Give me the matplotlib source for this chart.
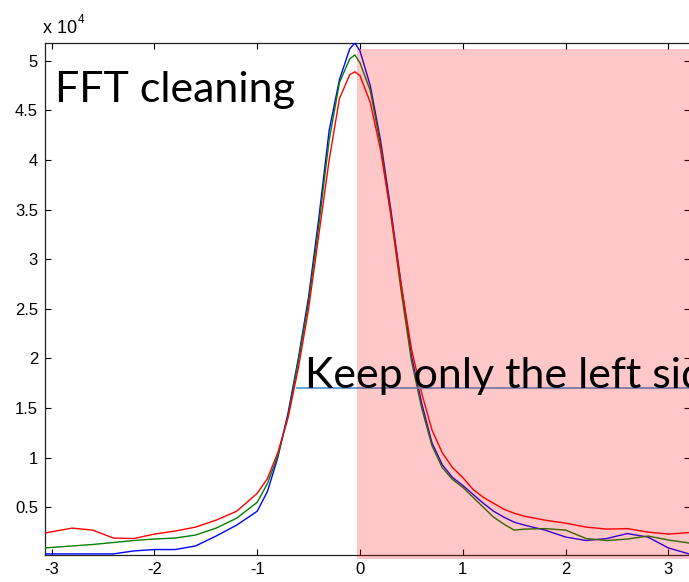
import matplotlib
matplotlib.use("Agg")
import matplotlib.pyplot as plt
from matplotlib.patches import Rectangle
import numpy as np

# Signal amplitude vs. frequency (three processing variants)
x = [-3.07, -2.8, -2.6, -2.4, -2.2, -2.0, -1.8, -1.6, -1.4, -1.2, -1.0, -0.9,
     -0.8, -0.7, -0.6, -0.5, -0.4, -0.3, -0.2, -0.1, -0.05, 0.0, 0.1, 0.2,
     0.3, 0.4, 0.5, 0.6, 0.7, 0.8, 0.9, 1.0, 1.1, 1.2, 1.3, 1.4, 1.5, 1.6,
     1.8, 2.0, 2.2, 2.4, 2.6, 2.8, 3.0, 3.2]

red = [2400, 2900, 2700, 1900, 1850, 2300, 2600, 3000, 3700, 4600, 6400, 7900,
       10500, 14000, 19000, 25000, 32500, 40000, 46200, 48600, 48900, 48500,
       45800, 41000, 34500, 27500, 21000, 16500, 12800, 10500, 9000, 8000,
       6800, 6000, 5400, 4800, 4400, 4100, 3700, 3400, 3000, 2800, 2850,
       2500, 2300, 2450]

green = [900, 1100, 1250, 1450, 1650, 1800, 1900, 2200, 2900, 3900, 5500, 7400,
         10200, 14200, 19700, 25700, 33500, 42000, 47800, 50200, 50600, 49800,
         47000, 41500, 34500, 26800, 19800, 15000, 11200, 9000, 7800, 7000,
         6000, 5000, 4000, 3300, 2700, 2800, 2850, 2700, 1850, 1650, 1800,
         2100, 1700, 1400]

blue = [300, 300, 300, 300, 600, 740, 740, 1100, 2100, 3200, 4600, 6600,
        10000, 14500, 20000, 26200, 34200, 43000, 48100, 51200, 51800, 51000,
        47500, 42000, 35000, 27500, 20300, 15500, 11500, 9300, 8000, 7200,
        6300, 5400, 4600, 4000, 3500, 3200, 2700, 2000, 1650, 1850, 2350,
        2000, 900, 300]

xticks = [-3, -2, -1, 0, 1, 2, 3]
yticks = [5000, 10000, 15000, 20000, 25000, 30000, 35000, 40000, 45000, 50000]
ytick_labels = ["0.5", "1", "1.5", "2", "2.5", "3", "3.5", "4", "4.5", "5"]

W, H = 689, 582
fig = plt.figure(figsize=(W / 100, H / 100), dpi=100)
ax = fig.add_axes([45 / W, (H - 555) / H, 645 / W, 512 / H])

ax.plot(x, blue, color=(0, 0, 1), lw=1.0, zorder=3)
ax.plot(x, green, color=(0, 0.5, 0), lw=1.0, zorder=3)
ax.plot(x, red, color=(1, 0, 0), lw=1.0, zorder=3)

ax.set_xlim(-3.064, 3.21)
ax.set_ylim(190, 51800)
ax.set_xticks(xticks)
ax.set_xticklabels([str(v) for v in xticks])
ax.set_yticks(yticks)
ax.set_yticklabels(ytick_labels)
ax.tick_params(direction="in", top=True, right=True, length=4.5, width=0.8,
               labelsize=12, pad=5, colors="black")
for lab in ax.get_xticklabels() + ax.get_yticklabels():
    lab.set_fontfamily("Liberation Sans")
for sp in ax.spines.values():
    sp.set_linewidth(0.9)
    sp.set_color("#222222")

fig.text(43 / W, 1 - 33 / H, "x 10", fontsize=13, family="Liberation Sans",
         va="baseline")
fig.text(78 / W, 1 - 23 / H, "4", fontsize=8.5, family="Liberation Sans",
         va="baseline")

# Annotations
fig.text(55 / W, 1 - 102 / H, "FFT cleaning", fontsize=31, family="Lato",
         va="baseline", color="black")
ax.plot([-0.616, 3.5], [17030, 17030], color="#5B9BD5", lw=1.3, zorder=4,
        clip_on=False)
fig.text(305 / W, 1 - 388 / H, "Keep only the left side", fontsize=31,
         family="Lato", va="baseline", color="black", zorder=4)

# Shaded region (right half discarded)
ax.add_patch(Rectangle((-0.03, -200), 4.0, 51400, facecolor=(1, 0, 0),
                       alpha=0.22, edgecolor="none", zorder=6, clip_on=False))

fig.savefig("out.png", dpi=100)
